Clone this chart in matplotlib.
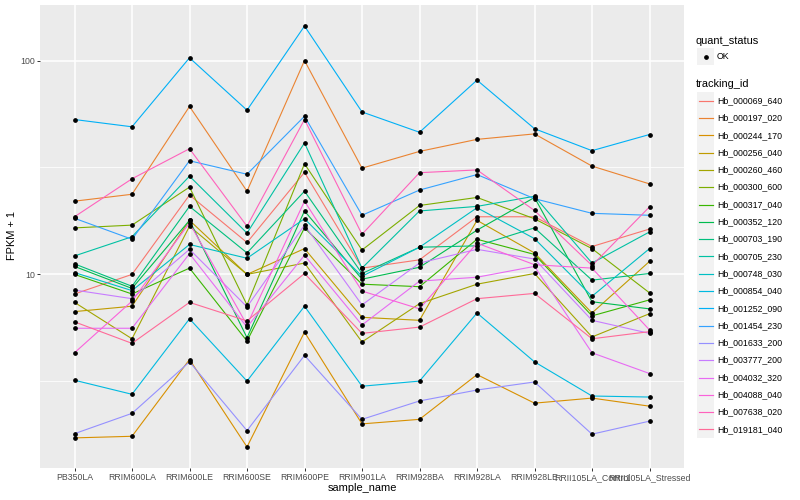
import numpy as np
import matplotlib
matplotlib.use("Agg")
import matplotlib.pyplot as plt
from matplotlib.patches import Rectangle
from matplotlib.lines import Line2D

plt.rcParams['font.family'] = ['Liberation Sans', 'DejaVu Sans']

samples = ["PB350LA", "RRIM600LA", "RRIM600LE", "RRIM600SE", "RRIM600PE", "RRIM901LA",
           "RRIM928BA", "RRIM928LA", "RRIM928LE", "RRII105LA_Control", "RRII105LA_Stressed"]

tracking_ids = ["Hb_000069_640", "Hb_000197_020", "Hb_000244_170", "Hb_000256_040",
                "Hb_000260_460", "Hb_000300_600", "Hb_000317_040", "Hb_000352_120",
                "Hb_000703_190", "Hb_000705_230", "Hb_000748_030", "Hb_000854_040",
                "Hb_001252_090", "Hb_001454_230", "Hb_001633_200", "Hb_003777_200",
                "Hb_004032_320", "Hb_004088_040", "Hb_007638_020", "Hb_019181_040"]

# FPKM + 1 per sample (order of `samples`)
Hb_000069_640 = [8.1, 10.0, 23.5, 14.1, 30.0, 10.7, 11.7, 18.6, 18.6, 13.5, 16.3]
Hb_000197_020 = [22.0, 23.7, 61.0, 24.5, 100.0, 31.4, 37.6, 42.8, 45.4, 32.1, 26.5]
Hb_000244_170 = [1.72, 1.75, 4.0, 1.56, 5.37, 2.0, 2.1, 3.4, 2.5, 2.64, 2.42]
Hb_000256_040 = [6.7, 7.1, 17.9, 10.0, 13.2, 6.3, 6.1, 17.9, 12.6, 6.6, 11.5]
Hb_000260_460 = [7.4, 5.0, 16.8, 10.0, 11.3, 4.83, 7.3, 9.0, 10.1, 5.1, 6.55]
Hb_000300_600 = [16.5, 17.0, 25.6, 7.2, 32.9, 13.0, 21.0, 22.9, 18.2, 13.2, 8.2]
Hb_000317_040 = [10.0, 8.1, 10.7, 4.88, 16.5, 9.0, 8.76, 14.6, 12.4, 6.4, 7.6]
Hb_000352_120 = [10.9, 8.6, 17.9, 5.06, 19.8, 9.5, 10.8, 16.1, 22.9, 7.45, 6.9]
Hb_000703_190 = [11.2, 8.8, 20.8, 12.6, 24.5, 10.1, 13.4, 13.6, 16.5, 9.4, 10.1]
Hb_000705_230 = [12.2, 15.0, 28.8, 15.6, 41.2, 10.7, 19.8, 20.8, 23.2, 11.3, 15.8]
Hb_000748_030 = [10.2, 8.4, 13.8, 11.9, 18.2, 9.8, 13.4, 20.5, 14.7, 7.9, 13.2]
Hb_000854_040 = [3.2, 2.75, 6.2, 3.17, 7.1, 3.0, 3.17, 6.6, 3.9, 2.7, 2.67]
Hb_001252_090 = [53.0, 49.0, 103.0, 58.6, 145.0, 57.5, 46.2, 81.0, 48.0, 37.9, 45.1]
Hb_001454_230 = [18.3, 14.6, 34.0, 29.4, 54.9, 18.9, 24.8, 29.3, 22.6, 19.3, 18.9]
Hb_001633_200 = [1.8, 2.24, 3.9, 1.86, 4.18, 2.1, 2.56, 2.88, 3.14, 1.79, 2.06]
Hb_003777_200 = [8.45, 7.7, 13.1, 7.05, 17.0, 7.2, 11.3, 13.1, 11.8, 6.1, 5.3]
Hb_004032_320 = [5.6, 5.6, 12.5, 5.67, 12.3, 5.8, 9.3, 9.7, 10.9, 4.3, 3.44]
Hb_004088_040 = [4.3, 7.5, 17.4, 5.8, 22.0, 8.36, 6.9, 14.0, 11.1, 10.7, 5.5]
Hb_007638_020 = [18.6, 28.0, 38.7, 16.8, 53.0, 15.4, 29.9, 30.8, 19.9, 11.0, 20.7]
Hb_019181_040 = [6.0, 4.76, 7.4, 6.06, 10.1, 5.3, 5.67, 7.7, 8.15, 5.0, 5.4]

series = [Hb_000069_640, Hb_000197_020, Hb_000244_170, Hb_000256_040, Hb_000260_460,
          Hb_000300_600, Hb_000317_040, Hb_000352_120, Hb_000703_190, Hb_000705_230,
          Hb_000748_030, Hb_000854_040, Hb_001252_090, Hb_001454_230, Hb_001633_200,
          Hb_003777_200, Hb_004032_320, Hb_004088_040, Hb_007638_020, Hb_019181_040]


def hcl_to_rgb(h, c, l):
    hr = np.radians(h)
    u, v = c * np.cos(hr), c * np.sin(hr)
    Xn, Yn, Zn = 95.047, 100.0, 108.883
    un = 4 * Xn / (Xn + 15 * Yn + 3 * Zn)
    vn = 9 * Yn / (Xn + 15 * Yn + 3 * Zn)
    Y = Yn * (((l + 16) / 116) ** 3 if l > 8 else l / 903.3)
    up = u / (13 * l) + un
    vp = v / (13 * l) + vn
    X = 9.0 * Y * up / (4 * vp)
    Z = -X / 3 - 5 * Y + 3 * Y / vp
    M = np.array([[3.240479, -1.537150, -0.498535],
                  [-0.969256, 1.875992, 0.041556],
                  [0.055648, -0.204043, 1.057311]])
    rgb = M @ (np.array([X, Y, Z]) / 100.0)
    def gam(t):
        return 12.92 * t if t <= 0.0031308 else 1.055 * t ** (1 / 2.4) - 0.055
    return tuple(min(1, max(0, gam(t))) for t in rgb)


n = len(tracking_ids)
hues = np.linspace(15, 375, n + 1)[:-1]
colors = [hcl_to_rgb(h, 100, 65) for h in hues]

W, H = 800, 500
fig = plt.figure(figsize=(W / 100, H / 100), dpi=100)
pl, pr, pt, pb = 40, 684, 5, 468
ax = fig.add_axes([pl / W, 1 - pb / H, (pr - pl) / W, (pb - pt) / H])
ax.set_facecolor('#EBEBEB')
for s in ax.spines.values():
    s.set_visible(False)

x = np.arange(len(samples))
for vals, col in zip(series, colors):
    ax.plot(x, vals, color=col, lw=0.8, zorder=3, solid_capstyle='butt')
for vals in series:
    ax.plot(x, vals, linestyle='none', marker='o', ms=2.4, color='black', zorder=4)

ax.set_yscale('log')
allv = np.log10(np.concatenate([np.asarray(s) for s in series]))
lo, hi = allv.min(), allv.max()
pad = 0.05 * (hi - lo)
ax.set_ylim(10 ** (lo - pad), 10 ** (hi + pad))
ax.set_xlim(-0.6, len(samples) - 1 + 0.6)

ax.set_yticks([10, 100])
ax.set_yticklabels(["10", "100"])
ax.set_yticks([10 ** 0.5, 10 ** 1.5], minor=True)
ax.yaxis.set_minor_formatter(matplotlib.ticker.NullFormatter())
ax.set_xticks(x)
ax.set_xticklabels(samples)

ax.grid(True, which='major', color='white', lw=1.1, zorder=1)
ax.grid(True, which='minor', axis='y', color='white', lw=0.55, zorder=1)
ax.set_axisbelow(True)
ax.tick_params(which='major', length=2.0, width=0.7, color='#333333',
               labelsize=6.3, labelcolor='#4D4D4D', pad=1.5)
ax.tick_params(which='minor', length=0)

fig.text(12 / W, 1 - 236 / H, "FPKM + 1", rotation=90, ha='center', va='center',
         fontsize=7.9, color='black')
fig.text((pl + pr) / 2 / W, 1 - 488 / H, "sample_name", ha='center', va='center',
         fontsize=7.9, color='black')


def fx(px):
    return px / W


def fy(py):
    return 1 - py / H


fig.text(fx(696), fy(40.5), "quant_status", ha='left', va='center', fontsize=7.9)
kx0, kw, kh = 697, 17, 17.3
fig.patches.append(Rectangle((fx(kx0), fy(56.5 + kh / 2)), kw / W, kh / H,
                             transform=fig.transFigure, facecolor='#F2F2F2',
                             edgecolor='none'))
fig.lines.append(Line2D([fx(kx0 + kw / 2)], [fy(56.5)], transform=fig.transFigure,
                        marker='o', ms=2.4, color='black', linestyle='none'))
fig.text(fx(717), fy(56.5), "OK", ha='left', va='center', fontsize=6.3)

fig.text(fx(696), fy(84), "tracking_id", ha='left', va='center', fontsize=7.9)
for i, (tid, col) in enumerate(zip(tracking_ids, colors)):
    cy = 100.7 + 17.3 * i
    fig.patches.append(Rectangle((fx(kx0), fy(cy + kh / 2)), kw / W, kh / H,
                                 transform=fig.transFigure, facecolor='#F2F2F2',
                                 edgecolor='none'))
    fig.lines.append(Line2D([fx(kx0 + 1.5), fx(kx0 + kw - 1.5)], [fy(cy), fy(cy)],
                            transform=fig.transFigure, color=col, lw=0.85))
    fig.text(fx(717), fy(cy), tid, ha='left', va='center', fontsize=6.3)

fig.savefig("out.png", dpi=100, facecolor='white')
